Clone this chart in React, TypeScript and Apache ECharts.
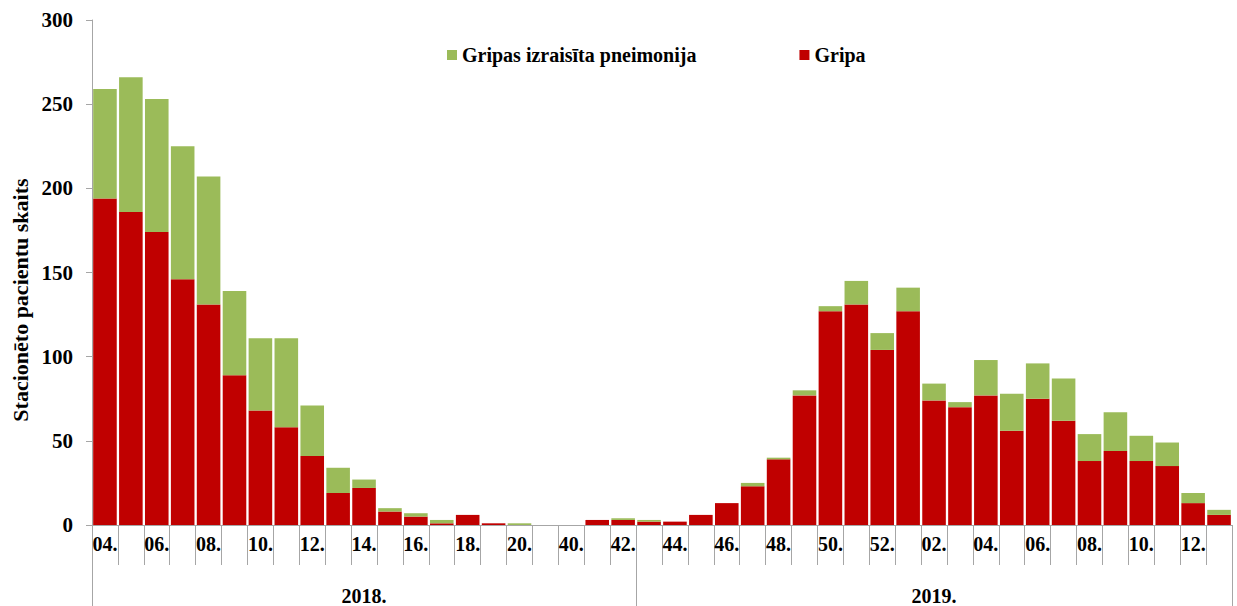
import React, { useEffect, useRef } from "react";
import * as echarts from "echarts";

const weeks = [
  "04.", "05.", "06.", "07.", "08.", "09.", "10.", "11.", "12.", "13.", "14.", "15.", "16.", "17.", "18.", "19.", "20.", "21.",
  "40.", "41.", "42.", "43.", "44.", "45.", "46.", "47.", "48.", "49.", "50.", "51.", "52.",
  "01.", "02.", "03.", "04.", "05.", "06.", "07.", "08.", "09.", "10.", "11.", "12.", "13.",
];

const gripa = [
  194, 186, 174, 146, 131, 89, 68, 58, 41, 19, 22, 8, 5, 1, 6, 1, 0, 0,
  0, 3, 3, 2, 2, 6, 13, 23, 39, 77, 127, 131, 104,
  127, 74, 70, 77, 56, 75, 62, 38, 44, 38, 35, 13, 6,
];

const pneimonija = [
  65, 80, 79, 79, 76, 50, 43, 53, 30, 15, 5, 2, 2, 2, 0, 0, 1, 0,
  0, 0, 1, 1, 0, 0, 0, 2, 1, 3, 3, 14, 10,
  14, 10, 3, 21, 22, 21, 25, 16, 23, 15, 14, 6, 3,
];

const yearLabels = ["2018.", "2019."];
const yearStarts = [0, 21];

const yTicks = { min: 0, max: 300, interval: 50 };

const FONT = "'Liberation Serif', 'Times New Roman', serif";

export default function App() {
  const ref = useRef<HTMLDivElement>(null);

  useEffect(() => {
    if (!ref.current) return;
    const chart = echarts.init(ref.current, undefined, { renderer: "svg" });

    const yearCenters = yearStarts.map((s, i) => {
      const end = i + 1 < yearStarts.length ? yearStarts[i + 1] : weeks.length;
      return Math.floor((s + end) / 2);
    });

    chart.setOption({
      animation: false,
      backgroundColor: "#ffffff",
      textStyle: { fontFamily: FONT },
      grid: { left: 92, right: 5, top: 20, bottom: 81, containLabel: false },
      legend: {
        data: ["Gripas izraisīta pneimonija", "Gripa"],
        left: 442,
        top: 40,
        icon: "rect",
        itemWidth: 10,
        itemHeight: 10,
        itemGap: 103,
        textStyle: { fontFamily: FONT, fontWeight: "bold", fontSize: 20, color: "#000" },
      },
      xAxis: [
        {
          type: "category",
          data: weeks,
          position: "bottom",
          axisLine: { show: true, lineStyle: { color: "#a6a6a6", width: 1 } },
          axisTick: { show: true, interval: 0, length: 40, lineStyle: { color: "#a6a6a6" } },
          axisLabel: {
            interval: 1,
            margin: 9,
            fontFamily: FONT,
            fontWeight: "bold",
            fontSize: 20,
            color: "#000",
          },
          splitLine: { show: false },
        },
        {
          type: "category",
          data: weeks,
          position: "bottom",
          axisLine: { show: false },
          axisTick: {
            show: true,
            interval: (i: number) => yearStarts.indexOf(i) >= 0,
            length: 81,
            lineStyle: { color: "#a6a6a6" },
          },
          axisLabel: {
            interval: (i: number) => yearCenters.indexOf(i) >= 0,
            margin: 61,
            formatter: (_v: string, i: number) => {
              const k = yearCenters.indexOf(i);
              return k >= 0 ? yearLabels[k] : "";
            },
            fontFamily: FONT,
            fontWeight: "bold",
            fontSize: 20,
            color: "#000",
          },
          splitLine: { show: false },
        },
      ],
      yAxis: {
        type: "value",
        min: yTicks.min,
        max: yTicks.max,
        interval: yTicks.interval,
        axisLine: { show: true, lineStyle: { color: "#a6a6a6" } },
        axisTick: { show: true, length: 6, lineStyle: { color: "#a6a6a6" } },
        axisLabel: {
          margin: 19,
          fontFamily: FONT,
          fontWeight: "bold",
          fontSize: 21,
          color: "#000",
        },
        splitLine: { show: false },
      },
      graphic: [
        {
          type: "text",
          x: 20,
          y: 300,
          rotation: Math.PI / 2,
          style: {
            text: "Stacionēto pacientu skaits",
            fontFamily: FONT,
            fontWeight: "bold",
            fontSize: 22,
            fill: "#000",
            textAlign: "center",
            textVerticalAlign: "middle",
          },
        },
      ],
      series: [
        {
          name: "Gripa",
          type: "bar",
          stack: "total",
          data: gripa,
          barCategoryGap: "9%",
          itemStyle: { color: "#C00000" },
        },
        {
          name: "Gripas izraisīta pneimonija",
          type: "bar",
          stack: "total",
          data: pneimonija,
          barCategoryGap: "9%",
          itemStyle: { color: "#9BBB59" },
        },
      ],
    });

    return () => chart.dispose();
  }, []);

  return (
    <div
      ref={ref}
      style={{ position: "fixed", left: 0, top: 0, width: 1237, height: 606 }}
    />
  );
}
